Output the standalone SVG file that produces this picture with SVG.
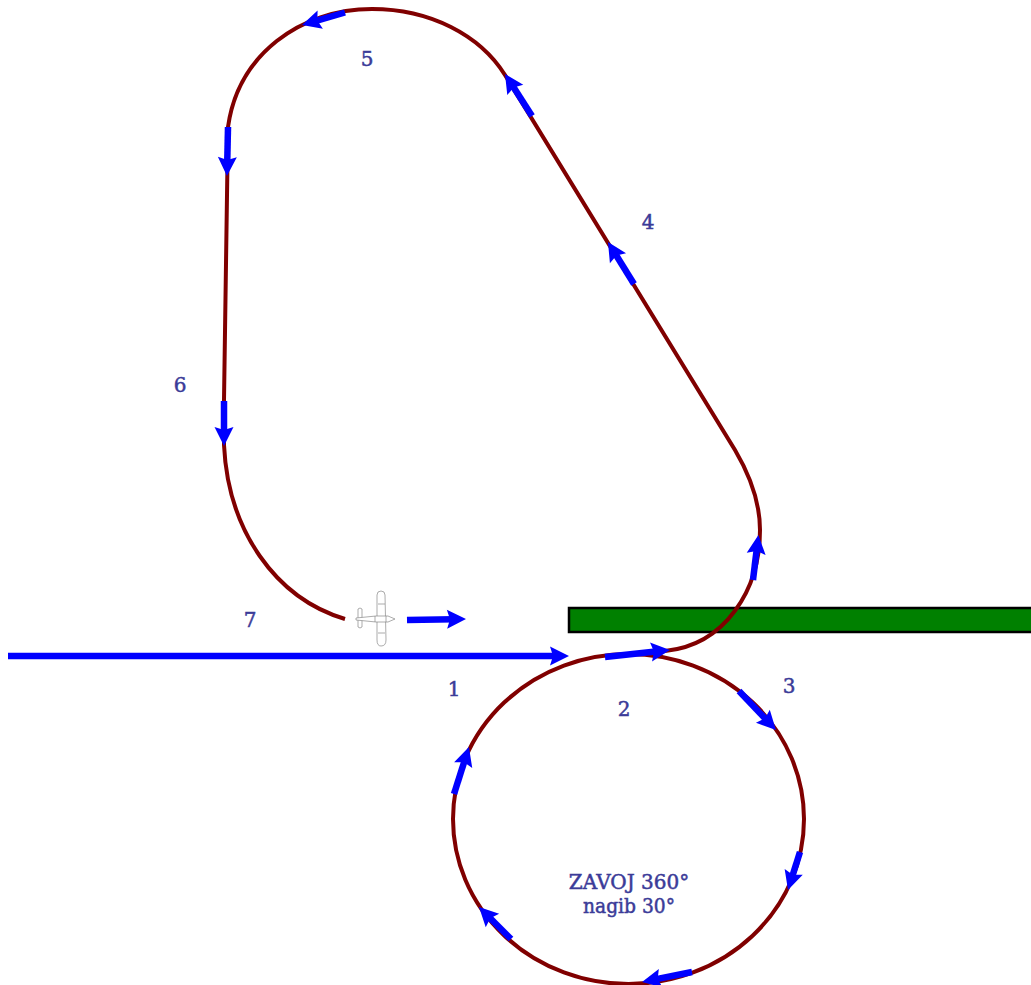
<svg xmlns="http://www.w3.org/2000/svg" width="1031" height="985" viewBox="0 0 1031 985">
<style>
.track{fill:none;stroke:#800000;stroke-width:4}
.arrow{fill:none;stroke:#0000ff;stroke-width:6.500;marker-end:url(#head)}
.lbl{font-family:"DejaVu Serif","Liberation Serif",serif;font-size:20px;fill:#3b3b98;stroke:#3b3b98;stroke-width:.5;text-anchor:middle}
.pl{fill:#fff;stroke:#888;stroke-width:.7}
</style>
<defs><marker id="head" markerUnits="userSpaceOnUse" markerWidth="20" markerHeight="20" refX="6" refY="9.500" orient="auto" overflow="visible"><path d="M-1 0L18 9.500L-1 19L2 9.500Z" fill="#0000ff"/></marker></defs>
<g id="runway"><rect x="569" y="608" width="464" height="24" fill="#008000" stroke="#000" stroke-width="2.500"/></g>
<g id="connectors">
<ellipse class="track" cx="628.500" cy="819" rx="175.500" ry="165"/>
<path class="track" d="M628 654C640 654 652 653 665 651C725 645 760 590 760 530C760 500 748 472 735 450L505 75C480 35 430 9 372 9C300 9 238 55 228 127L224 400L224 445C228 530 275 598 345 619"/>
<path class="arrow" d="M8 656H557"/>
<path class="arrow" d="M407 620L454 619.200"/>
<path class="arrow" d="M605 657L658 651.300"/>
<path class="arrow" d="M739 691L767.700 721.300"/>
<path class="arrow" d="M800 852L791.600 878.600"/>
<path class="arrow" d="M692 972L653.800 979.600"/>
<path class="arrow" d="M511 939L487.500 915.500"/>
<path class="arrow" d="M454 794L465.300 758.400"/>
<path class="arrow" d="M753 580L757 547"/>
<path class="arrow" d="M634 284L614.300 252.200"/>
<path class="arrow" d="M532 116L511.500 84.100"/>
<path class="arrow" d="M345 12.500L313.500 21.600"/>
<path class="arrow" d="M228 127L227.200 164"/>
<path class="arrow" d="M224 401V434"/>
</g>
<g id="airplane">
<path class="pl" d="M377 595Q377 591 381 591Q385 591 385 595L386 640Q386 646 381 646Q377 646 377 640Z"/>
<path class="pl" d="M358 609Q360 607 362 609L362 627Q360 629 358 627Z"/>
<path class="pl" d="M356 618L376 616L388 616L395 619L388 622L376 622L356 620Z"/>
<path class="pl" d="M375 616V622M386 616V622M378 604H385M378 633H385"/>
</g>
<g id="labels">
<text class="lbl" x="454" y="696">1</text>
<text class="lbl" x="624" y="716">2</text>
<text class="lbl" x="789" y="693">3</text>
<text class="lbl" x="648" y="229">4</text>
<text class="lbl" x="367" y="66">5</text>
<text class="lbl" x="180" y="392">6</text>
<text class="lbl" x="250" y="627">7</text>
<text class="lbl" x="629" y="889">ZAVOJ 360°</text>
<text class="lbl" x="629" y="913" textLength="92" lengthAdjust="spacingAndGlyphs">nagib 30°</text>
</g>
</svg>
